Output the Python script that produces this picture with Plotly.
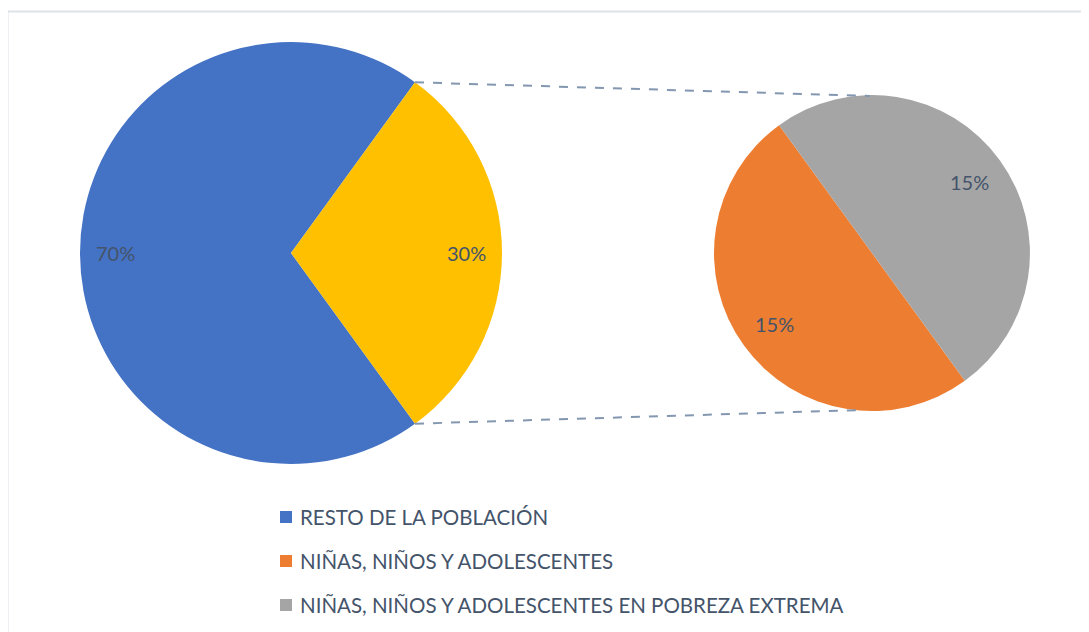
import math
import plotly.graph_objects as go

# ---- data ----
main_labels = ["RESTO DE LA POBLACIÓN", "NIÑAS, NIÑOS Y ADOLESCENTES"]
main_values = [70, 30]
main_colors = ["#4472C4", "#FFC000"]

sub_labels = ["NIÑAS, NIÑOS Y ADOLESCENTES", "NIÑAS, NIÑOS Y ADOLESCENTES EN POBREZA EXTREMA"]
sub_values = [15, 15]
sub_colors = ["#ED7D31", "#A5A5A5"]

legend_labels = ["RESTO DE LA POBLACIÓN", "NIÑAS, NIÑOS Y ADOLESCENTES",
                 "NIÑAS, NIÑOS Y ADOLESCENTES EN POBREZA EXTREMA"]
legend_colors = ["#4472C4", "#ED7D31", "#A5A5A5"]

W, H = 1089, 632
OX, OY = 8, 8  # page body margin
FONT = "Lato"
TXT = "#44546A"

# layout geometry (screen pixels)
main_c, main_r, main_rot = (291, 253), 211, 144
sub_c, sub_r, sub_rot = (872, 253), 158, 144


def px(x):
    return (x - OX) / W


def py(y):
    return 1 - (y - OY) / H


def dom(c, r):
    return dict(x=[px(c[0] - r), px(c[0] + r)], y=[py(c[1] + r), py(c[1] - r)])


fig = go.Figure()
fig.add_trace(go.Pie(values=main_values, labels=main_labels, marker=dict(colors=main_colors),
                     sort=False, direction="clockwise", rotation=main_rot,
                     textinfo="none", hoverinfo="label+percent", showlegend=False,
                     domain=dom(main_c, main_r)))
fig.add_trace(go.Pie(values=sub_values, labels=sub_labels, marker=dict(colors=sub_colors),
                     sort=False, direction="clockwise", rotation=sub_rot,
                     textinfo="none", hoverinfo="label+percent", showlegend=False,
                     domain=dom(sub_c, sub_r)))


def pt(c, r, ang):
    a = math.radians(ang)
    return c[0] + r * math.sin(a), c[1] - r * math.cos(a)


annotations = []
shapes = []


def add_labels(values, c, r, rot, frac):
    tot = sum(values)
    start = rot
    bounds = []
    for v in values:
        span = 360 * v / tot
        mid = start + span / 2
        x, y = pt(c, r * frac, mid)
        annotations.append(dict(x=px(x), y=py(y), xref="paper", yref="paper",
                                xanchor="center", yanchor="middle",
                                text=f"{v}%", showarrow=False,
                                font=dict(family=FONT, size=20, color=TXT)))
        bounds.append((start, start + span))
        start += span
    return bounds


mb = add_labels(main_values, main_c, main_r, main_rot, 0.83)
add_labels(sub_values, sub_c, sub_r, sub_rot, 0.76)

# connector lines from the edges of the exploded slice to the secondary pie
a0, a1 = mb[1]
p_top = pt(main_c, main_r, a0)
p_bot = pt(main_c, main_r, a1)
q_top = (sub_c[0] - 2, sub_c[1] - sub_r + 1)
q_bot = (sub_c[0] - 10, sub_c[1] + sub_r - 1)
for p, q in [(p_top, q_top), (p_bot, q_bot)]:
    shapes.append(dict(type="line", xref="paper", yref="paper",
                       x0=px(p[0]), y0=py(p[1]), x1=px(q[0]), y1=py(q[1]),
                       line=dict(color="#8497B0", width=2, dash="dash")))

# chart border
shapes.append(dict(type="rect", xref="paper", yref="paper",
                   x0=px(7.5), y0=-0.05, x1=1.05, y1=py(11.5),
                   line=dict(color="#DEE2E8", width=2), fillcolor="rgba(0,0,0,0)", layer="below"))

# legend
ly0, ldy = 517, 44
for i, (lab, col) in enumerate(zip(legend_labels, legend_colors)):
    yc = ly0 + i * ldy
    shapes.append(dict(type="rect", xref="paper", yref="paper",
                       x0=px(280), x1=px(292), y0=py(yc + 6), y1=py(yc - 6),
                       line=dict(width=0), fillcolor=col))
    annotations.append(dict(x=px(298), y=py(yc), xref="paper", yref="paper",
                            xanchor="left", yanchor="middle", text=lab, showarrow=False,
                            font=dict(family=FONT, size=20.5, color=TXT)))

fig.update_layout(width=W, height=H, margin=dict(l=0, r=0, t=0, b=0),
                  paper_bgcolor="white", plot_bgcolor="white",
                  shapes=shapes, annotations=annotations, showlegend=False)

fig.write_html("out.html")
